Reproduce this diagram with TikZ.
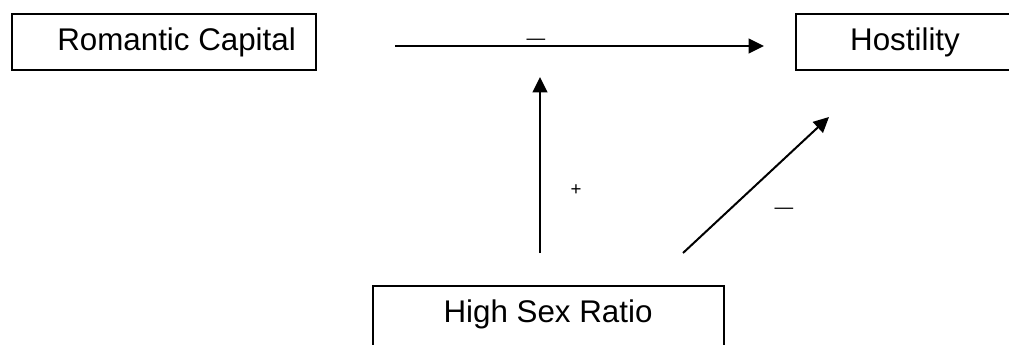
\documentclass[tikz,border=0pt]{standalone}
\usepackage{fontspec}
\setmainfont{Liberation Sans}
\usetikzlibrary{arrows.meta}
\begin{document}
\begin{tikzpicture}[x=0.75pt,y=-0.75pt,
  box/.style={draw=black,line width=1.5pt,inner sep=0pt},
  lbl/.style={inner sep=0pt,font=\fontsize{23.5}{28}\selectfont},
  conn/.style={line width=1.5pt,-{Triangle[length=11.5pt,width=11pt]}},
  sign/.style={inner sep=0pt,font=\fontsize{14}{16}\selectfont}]
\useasboundingbox (0,0) rectangle (1009,345);
\node[box,minimum width=304*0.75pt,minimum height=56*0.75pt,anchor=north west] (rc) at (11,13) {};
\node[lbl,anchor=west] (rct) at (57,42) {Romantic Capital};
\node[box,minimum width=300*0.75pt,minimum height=56*0.75pt,anchor=north west] (ho) at (795,13) {};
\node[lbl] (hot) at (905,42) {Hostility};
\node[box,minimum width=351*0.75pt,minimum height=80*0.75pt,anchor=north west] (hs) at (372,285) {};
\node[lbl] (hst) at (548,314) {High Sex Ratio};
\coordinate (h1) at (395,46);
\coordinate (h2) at (764,46);
\coordinate (v1) at (540,253);
\coordinate (v2) at (540,77);
\coordinate (d1) at (683,253);
\coordinate (d2) at (829,117);
\draw[conn] (h1) -- (h2);
\draw[conn] (v1) -- (v2);
\draw[conn] (d1) -- (d2);
\node[sign] (m1) at (536,42) {—};
\node[sign] (p1) at (576,190) {+};
\node[sign] (m2) at (784,211) {—};
\end{tikzpicture}
\end{document}
